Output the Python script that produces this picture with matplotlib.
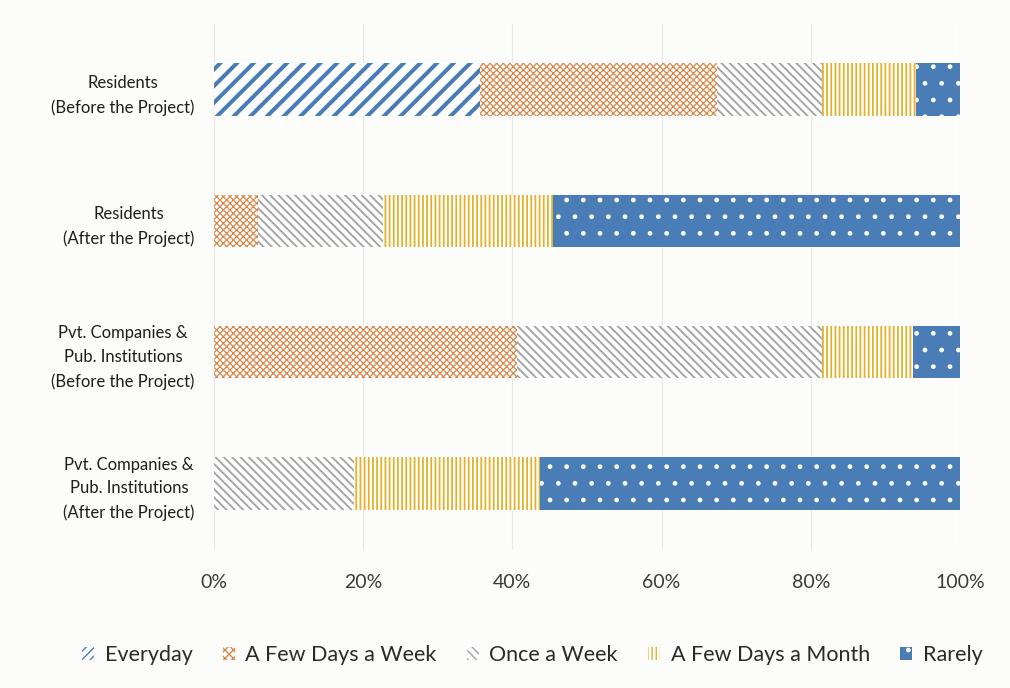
import matplotlib
matplotlib.use("Agg")
import matplotlib.pyplot as plt
from matplotlib.patches import Patch
from matplotlib.ticker import FuncFormatter

plt.rcParams['font.family'] = ['Lato', 'DejaVu Sans']

groups = [
    "Residents\n(Before the Project)",
    "Residents\n(After the Project)",
    "Pvt. Companies &\nPub. Institutions\n(Before the Project)",
    "Pvt. Companies &\nPub. Institutions\n(After the Project)",
]
series_names = ["Everyday", "A Few Days a Week", "Once a Week",
                "A Few Days a Month", "Rarely"]
everyday = [35.7, 0.0, 0.0, 0.0]
few_days_week = [31.7, 5.9, 40.6, 0.0]
once_week = [14.1, 16.8, 40.9, 18.7]
few_days_month = [12.6, 22.8, 12.2, 25.0]
rarely = [5.9, 54.5, 6.3, 56.3]
ticks = [0, 20, 40, 60, 80, 100]

values = [everyday, few_days_week, once_week, few_days_month, rarely]

# fill/hatch styling per series: (face, hatch colour, hatch, hatch width)
styles = [
    ("white", "#4A7DB5", "//", 2.9),
    ("white", "#D9884A", "xxxxx", 0.9),
    ("white", "#A2A2A2", "\\\\\\\\", 1.3),
    ("white", "#E2B22C", "||||", 1.3),
    ("#4A7DB5", "white", ".", 1.0),
]
legend_hatch = ["////", "xxxx", "\\\\\\\\", "||||", "."]


def hatched_patch(factory, hlw):
    with plt.rc_context({"hatch.linewidth": hlw}):
        obj = factory()
    return obj


fig = plt.figure(figsize=(10.1, 6.88), dpi=100)
fig.patch.set_facecolor("#FCFCFA")
ax = fig.add_axes([214 / 1010, 1 - 549 / 688, 746 / 1010, 525 / 688])
ax.set_facecolor("#FCFCFA")

ypos = list(range(len(groups)))
left = [0.0] * len(groups)
handles = []
for name, vals, (face, hcol, hatch, hlw), lh in zip(series_names, values,
                                                   styles, legend_hatch):
    bars = hatched_patch(
        lambda: ax.barh(ypos, vals, left=left, height=0.40, color=face,
                        edgecolor=hcol, hatch=hatch, linewidth=0, zorder=3),
        hlw)
    for b in bars:
        if hasattr(b, "set_hatch_linewidth"):
            b.set_hatch_linewidth(hlw)
    lw_leg = min(hlw, 1.4)
    h = hatched_patch(
        lambda: Patch(facecolor=face, edgecolor=hcol, hatch=lh, linewidth=0,
                      label=name),
        lw_leg)
    if hasattr(h, "set_hatch_linewidth"):
        h.set_hatch_linewidth(lw_leg)
    handles.append(h)
    left = [l + v for l, v in zip(left, vals)]

ax.set_xlim(0, 100)
ax.set_ylim(len(groups) - 0.5, -0.5)
ax.set_xticks(ticks)
ax.xaxis.set_major_formatter(FuncFormatter(lambda v, p: f"{v:.0f}%"))
ax.set_yticks(ypos)
ax.set_yticklabels(groups, multialignment="center", linespacing=1.6)
ax.tick_params(axis="x", length=0, pad=18, labelsize=14, colors="#3A3A3A")
ax.tick_params(axis="y", length=0, pad=14, labelsize=12, colors="#1E1E1E")
ax.grid(axis="x", color="#E6E6E6", linewidth=0.8, zorder=0)
for s in ax.spines.values():
    s.set_visible(False)

fig.legend(handles=handles, loc="center", bbox_to_anchor=(0.527, 1 - 655 / 688),
           ncol=5, frameon=False, fontsize=15.5, handlelength=0.55,
           handleheight=0.55, handletextpad=0.5, columnspacing=1.4,
           labelcolor="#2A2A2A")

fig.savefig("out.png", dpi=100, facecolor=fig.get_facecolor())
